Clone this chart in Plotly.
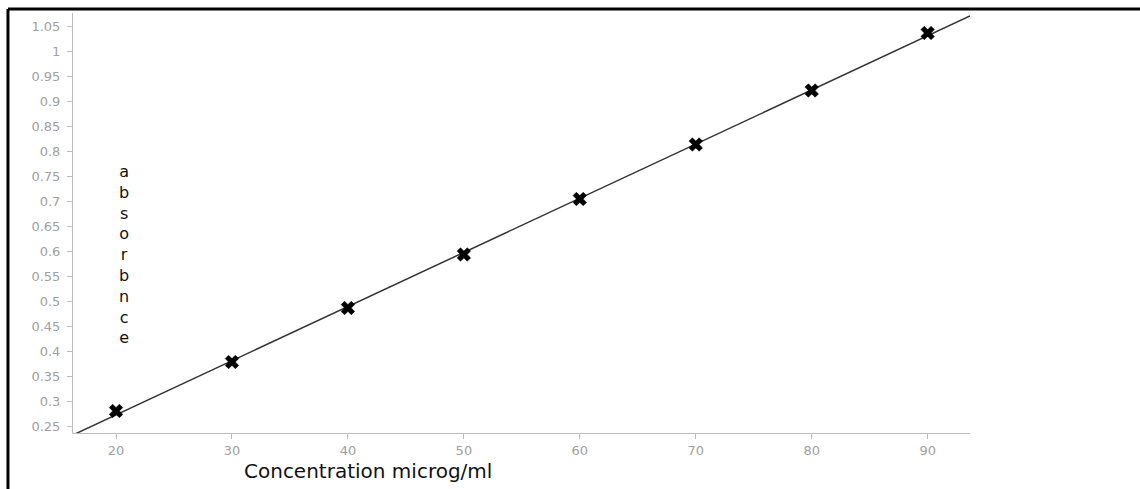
import numpy as np
import plotly.graph_objects as go

# Calibration data
concentration = [20, 30, 40, 50, 60, 70, 80, 90]
absorbance = [0.280, 0.378, 0.486, 0.593, 0.704, 0.813, 0.921, 1.036]
x_ticks = [20, 30, 40, 50, 60, 70, 80, 90]
y_ticks = [0.25, 0.3, 0.35, 0.4, 0.45, 0.5, 0.55, 0.6, 0.65, 0.7, 0.75,
           0.8, 0.85, 0.9, 0.95, 1, 1.05]
y_tick_text = ["0.25", "0.3", "0.35", "0.4", "0.45", "0.5", "0.55", "0.6",
               "0.65", "0.7", "0.75", "0.8", "0.85", "0.9", "0.95", "1", "1.05"]
x_range = [16.29, 93.65]
y_range = [0.236, 1.076]

# Least-squares calibration line across the visible x range
slope, intercept = np.polyfit(concentration, absorbance, 1)
fit_x = np.array(x_range)
fit_y = slope * fit_x + intercept

fig = go.Figure()
fig.add_trace(go.Scatter(
    x=fit_x, y=fit_y, mode="lines",
    line=dict(color="#333333", width=1.5),
    hoverinfo="skip", showlegend=False,
))
fig.add_trace(go.Scatter(
    x=concentration, y=absorbance, mode="markers",
    marker=dict(symbol="x", size=12, color="black",
                line=dict(width=0.5, color="black")),
    showlegend=False,
))

font_family = "DejaVu Sans, Arial, sans-serif"
axis_common = dict(
    showgrid=False, zeroline=False, showline=True,
    linecolor="#bdbdbd", linewidth=1,
    ticks="outside", ticklen=5, tickcolor="#bdbdbd",
    tickfont=dict(family=font_family, size=13, color="#a0a0a0"),
)

fig.update_xaxes(range=x_range, tickvals=x_ticks, **axis_common)
fig.update_yaxes(range=y_range, tickvals=y_ticks, ticktext=y_tick_text,
                 ticklabelstandoff=4, **axis_common)

# Vertical stacked y-axis label
fig.add_annotation(
    text="<br>".join(list("absorbnce")),
    xref="paper", yref="paper", x=0.049, y=0.426,
    showarrow=False, align="center",
    font=dict(family=font_family, size=16, color="#111111"),
)
# x-axis label
fig.add_annotation(
    text="Concentration microg/ml",
    xref="paper", yref="paper", x=(368 - 73) / 897, y=(433 - 471) / 420,
    showarrow=False, xanchor="center", yanchor="middle",
    font=dict(family=font_family, size=20, color="#111111"),
)

# Frame lines along the top and left edges
fig.add_shape(type="line", xref="paper", yref="paper",
              x0=-0.0725, y0=1.0095, x1=1.2, y1=1.0095,
              line=dict(color="black", width=3))
fig.add_shape(type="line", xref="paper", yref="paper",
              x0=-0.0725, y0=1.0095, x1=-0.0725, y1=-0.2,
              line=dict(color="black", width=3))

fig.update_layout(
    width=1140, height=489,
    margin=dict(l=73, r=170, t=13, b=56),
    paper_bgcolor="white", plot_bgcolor="white",
    font=dict(family=font_family),
)

fig.write_html("out.html")
